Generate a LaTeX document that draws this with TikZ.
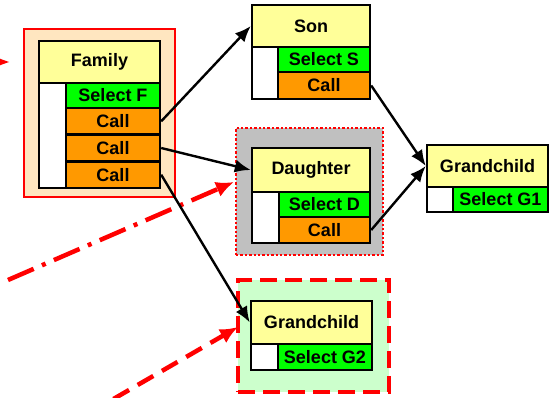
\documentclass[tikz,border=0pt]{standalone}
\usepackage{fontspec}
\setmainfont{Liberation Sans}
\usetikzlibrary{arrows.meta}
\definecolor{hdrc}{HTML}{FFFF99}
\definecolor{selc}{HTML}{00FF00}
\definecolor{callc}{HTML}{FF9900}
\definecolor{peach}{HTML}{FFE6C0}
\definecolor{grayc}{HTML}{C0C0C0}
\definecolor{lgreen}{HTML}{CCFFCC}
\definecolor{redc}{HTML}{FF0000}
\tikzset{
  cell/.style={draw=black, line width=2.4pt, inner sep=0pt, font=\fontsize{18}{20}\selectfont\bfseries},
  hdrbox/.style={cell, fill=hdrc},
  selbox/.style={cell, fill=selc},
  callbox/.style={cell, fill=callc},
  sidebox/.style={cell, fill=white},
  conn/.style={draw=black, line width=2.4pt, -{Latex[length=16pt,width=13pt]}},
  redarrow/.style={draw=redc, line width=4.5pt, -{Latex[length=18pt,width=16pt]}},
}
\begin{document}
\begin{tikzpicture}[x=1pt,y=-1pt]
\useasboundingbox (0,0) rectangle (552,398);
% frames
\node[draw=redc, line width=2.4pt, fill=peach, minimum width=151, minimum height=168, inner sep=0pt] (famframe) at (99.5,113) {};
\node[draw=redc, line width=2.4pt, dash pattern=on 2.4pt off 2pt, fill=grayc, minimum width=147, minimum height=127, inner sep=0pt] (dauframe) at (309.5,191.5) {};
\node[draw=redc, line width=4.5pt, dash pattern=on 17pt off 8pt, fill=lgreen, minimum width=151, minimum height=112, inner sep=0pt] (gtframe) at (313.5,336) {};
% Family
\node[hdrbox, minimum width=121, minimum height=42] (fam) at (99.5,62) {Family};
\node[sidebox, minimum width=27, minimum height=105] (famside) at (52.5,135.5) {};
\node[selbox, minimum width=94, minimum height=25] (selF) at (113,95.5) {Select F};
\node[callbox, minimum width=94, minimum height=26.7] (callA) at (113,121.3) {Call};
\node[callbox, minimum width=94, minimum height=26.7] (callB) at (113,148) {Call};
\node[callbox, minimum width=94, minimum height=26.7] (callC) at (113,174.7) {Call};
% Son
\node[hdrbox, minimum width=118, minimum height=42] (son) at (311,26) {Son};
\node[sidebox, minimum width=26, minimum height=52] (sonside) at (265,73) {};
\node[selbox, minimum width=92, minimum height=25] (selS) at (324,59.5) {Select S};
\node[callbox, minimum width=92, minimum height=27] (sonCall) at (324,85.5) {Call};
% Daughter
\node[hdrbox, minimum width=118, minimum height=44] (dau) at (311,170) {Daughter};
\node[sidebox, minimum width=27, minimum height=51] (dauside) at (265.5,217.5) {};
\node[selbox, minimum width=91, minimum height=25] (selD) at (324.5,204.5) {Select D};
\node[callbox, minimum width=91, minimum height=26] (dauCall) at (324.5,230) {Call};
% Grandchild 1
\node[hdrbox, minimum width=121, minimum height=42] (gone) at (487.5,166) {Grandchild};
\node[sidebox, minimum width=26, minimum height=25] (goneside) at (440,199.5) {};
\node[selbox, minimum width=95, minimum height=25] (selGone) at (500.5,199.5) {Select G1};
% Grandchild 2
\node[hdrbox, minimum width=121, minimum height=43] (gtwo) at (311.5,322.5) {Grandchild};
\node[sidebox, minimum width=27, minimum height=26] (gtwoside) at (264.5,357) {};
\node[selbox, minimum width=94, minimum height=26] (selGtwo) at (325,357) {Select G2};
% red arrows
\coordinate (rAstart) at (-30,62);
\coordinate (rAend) at (10,62);
\draw[redarrow] (rAstart) -- (rAend);
\coordinate (rBstart) at (8,280);
\coordinate (rBend) at (234,182);
\draw[redarrow, dash pattern=on 28pt off 9pt on 4pt off 9pt] (rBstart) -- (rBend);
\coordinate (rCstart) at (65,427);
\coordinate (rCend) at (238,327);
\draw[redarrow, dash pattern=on 18pt off 10pt] (rCstart) -- (rCend);
% black connectors
\draw[conn] (callA.east) -- (son.west);
\draw[conn] (callB.east) -- (dau.west);
\draw[conn] (callC.east) -- (gtwo.west);
\draw[conn] (sonCall.east) -- (gone.west);
\draw[conn] (dauCall.east) -- (gone.west);
\end{tikzpicture}
\end{document}
